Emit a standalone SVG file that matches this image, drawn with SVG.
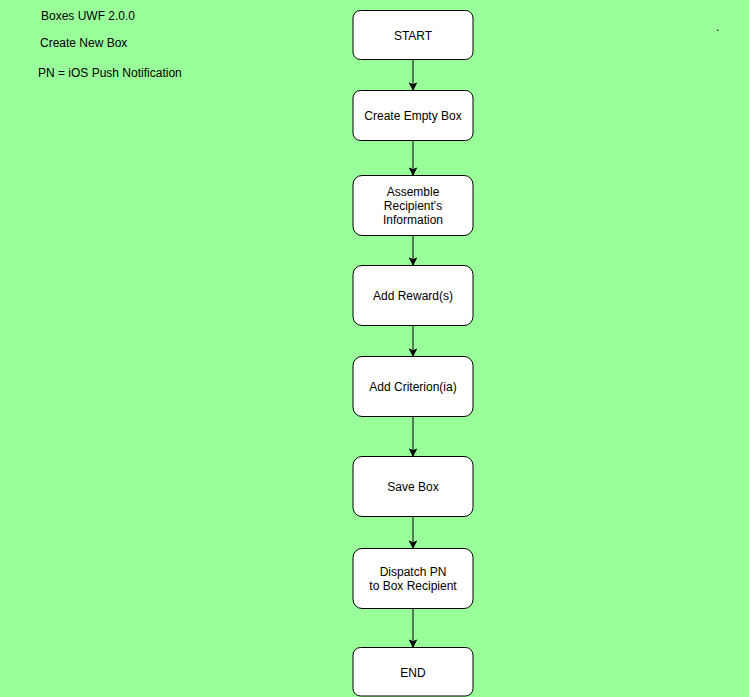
<svg xmlns="http://www.w3.org/2000/svg" width="749" height="697" viewBox="0 0 749 697">
<style>
.box{fill:#ffffff;stroke:#000000;stroke-width:1}
.t{font-family:"Liberation Sans",Arial,Helvetica,sans-serif;font-size:12px;fill:#000000}
.c{text-anchor:middle}
.edge{stroke:#000000;stroke-width:1;fill:none}
</style>
<defs>
<marker id="arr" markerWidth="10" markerHeight="10" refX="8" refY="5" orient="auto" markerUnits="userSpaceOnUse">
<path d="M1,1.5 L8,5 L1,8.5 L2.8,5 Z" fill="#000000" stroke="#000000" stroke-width="1"/>
</marker>
</defs>
<rect x="0" y="0" width="749" height="697" fill="#99FF99"/>
<g id="labels">
<text class="t" x="41" y="20">Boxes UWF 2.0.0</text>
<text class="t" x="40" y="47">Create New Box</text>
<text class="t" x="38" y="77">PN = iOS Push Notification</text>
<text class="t" x="716" y="31">.</text>
</g>
<g id="connectors">
<path class="edge" d="M413,59.5 V90" marker-end="url(#arr)"/>
<path class="edge" d="M413,140.5 V175" marker-end="url(#arr)"/>
<path class="edge" d="M413,235.5 V265" marker-end="url(#arr)"/>
<path class="edge" d="M413,325.5 V356" marker-end="url(#arr)"/>
<path class="edge" d="M413,416.5 V456" marker-end="url(#arr)"/>
<path class="edge" d="M413,516.5 V548" marker-end="url(#arr)"/>
<path class="edge" d="M413,608.5 V647" marker-end="url(#arr)"/>
</g>
<g id="start">
<rect class="box" x="353" y="10.5" width="120" height="49" rx="7.5"/>
<text class="t c" x="413" y="39.5">START</text>
</g>
<g id="create-empty-box">
<rect class="box" x="353" y="90.5" width="120" height="50" rx="7.5"/>
<text class="t c" x="413" y="120">Create Empty Box</text>
</g>
<g id="assemble">
<rect class="box" x="353" y="175.5" width="120" height="60" rx="9"/>
<text class="t c" x="413" y="196">Assemble</text>
<text class="t c" x="413" y="210">Recipient's</text>
<text class="t c" x="413" y="224">Information</text>
</g>
<g id="add-rewards">
<rect class="box" x="353" y="265.5" width="120" height="60" rx="9"/>
<text class="t c" x="413" y="300">Add Reward(s)</text>
</g>
<g id="add-criteria">
<rect class="box" x="353" y="356.5" width="120" height="60" rx="9"/>
<text class="t c" x="413" y="391">Add Criterion(ia)</text>
</g>
<g id="save-box">
<rect class="box" x="353" y="456.5" width="120" height="60" rx="9"/>
<text class="t c" x="413" y="491">Save Box</text>
</g>
<g id="dispatch">
<rect class="box" x="353" y="548.5" width="120" height="60" rx="9"/>
<text class="t c" x="413" y="576">Dispatch PN</text>
<text class="t c" x="413" y="590">to Box Recipient</text>
</g>
<g id="end">
<rect class="box" x="353" y="647.5" width="120" height="48.5" rx="7.5"/>
<text class="t c" x="413" y="676.5">END</text>
</g>
</svg>
